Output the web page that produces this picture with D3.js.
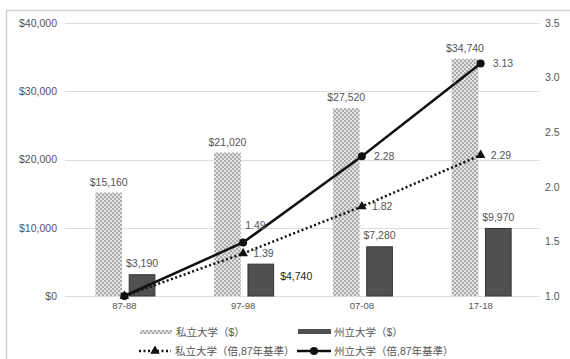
<!DOCTYPE html>
<html><head><meta charset="utf-8">
<script src="https://cdn.jsdelivr.net/npm/d3@7"></script>
<style>body{margin:0;background:#fff}svg{display:block}text{font-family:"Liberation Sans","Noto Sans CJK JP",sans-serif}</style>
</head><body>
<script>
const categories = ["87-88","97-98","07-08","17-18"];
const privateUSD = [15160,21020,27520,34740];
const stateUSD = [3190,4740,7280,9970];
const privateIdx = [1.0,1.39,1.82,2.29];
const stateIdx = [1.0,1.49,2.28,3.13];
const leftTicks = [0,10000,20000,30000,40000];
const rightTicks = [1.0,1.5,2.0,2.5,3.0,3.5];
const seriesNames = ["私立大学（$）","州立大学（$）","私立大学（倍,87年基準）","州立大学（倍,87年基準）"];

const W=570,H=359;
const svg=d3.select("body").append("svg").attr("width",W).attr("height",H);
const defs=svg.append("defs");
const pat=defs.append("pattern").attr("id","chk").attr("patternUnits","userSpaceOnUse").attr("width",4).attr("height",4);
pat.append("rect").attr("width",4).attr("height",4).attr("fill","#e4e4e4");
pat.append("rect").attr("width",2).attr("height",2).attr("fill","#ababab");
pat.append("rect").attr("x",2).attr("y",2).attr("width",2).attr("height",2).attr("fill","#ababab");

svg.append("rect").attr("x",6.5).attr("y",10.5).attr("width",600).attr("height",400).attr("fill","none").attr("stroke","#d0d0d0").attr("stroke-width",1.5);

const x=d3.scaleBand().domain(categories).range([65,540]);
const yL=d3.scaleLinear().domain([0,40000]).range([296,23]);
const yR=d3.scaleLinear().domain([1.0,3.5]).range([296,23]);
const inner=d3.scaleBand().domain(["p","s"]).range([-29,31]).paddingInner(0.2);

// gridlines
svg.append("g").selectAll("line").data(leftTicks).join("line")
 .attr("x1",65).attr("x2",540).attr("y1",d=>Math.round(yL(d))+0.5).attr("y2",d=>Math.round(yL(d))+0.5)
 .attr("stroke","#dedede").attr("stroke-width",1);

// axes
const fmt=d=>"$"+d3.format(",")(d);
const gL=svg.append("g").attr("transform","translate(62,0)").call(d3.axisLeft(yL).tickValues(leftTicks).tickFormat(fmt).tickSize(0).tickPadding(5));
gL.select(".domain").remove();
gL.selectAll("text").attr("font-size",10.5).attr("fill","#555");
const gR=svg.append("g").attr("transform","translate(540,0)").call(d3.axisRight(yR).tickValues(rightTicks).tickFormat(d3.format(".1f")).tickSize(0).tickPadding(5));
gR.select(".domain").remove();
gR.selectAll("text").attr("font-size",10.5).attr("fill","#555");
const gX=svg.append("g").attr("transform","translate(0,296)").call(d3.axisBottom(x).tickSize(0).tickPadding(6));
gX.select(".domain").remove();
gX.selectAll("text").attr("font-size",9.5).attr("fill","#555");

const cx=c=>x(c)+x.bandwidth()/2;
// bars
svg.append("g").selectAll("rect").data(categories).join("rect")
 .attr("x",c=>cx(c)+inner("p")).attr("width",inner.bandwidth())
 .attr("y",(c,i)=>yL(privateUSD[i])).attr("height",(c,i)=>yL(0)-yL(privateUSD[i])).attr("fill","url(#chk)");
svg.append("g").selectAll("rect").data(categories).join("rect")
 .attr("x",c=>cx(c)+inner("s")+0.5).attr("width",inner.bandwidth()-1)
 .attr("y",(c,i)=>yL(stateUSD[i])+0.5).attr("height",(c,i)=>yL(0)-yL(stateUSD[i])-0.5)
 .attr("fill","#505050").attr("stroke","#333").attr("stroke-width",1);

// bar labels
svg.append("g").selectAll("text").data(categories).join("text")
 .attr("x",c=>cx(c)+inner("p")+inner.bandwidth()/2).attr("y",(c,i)=>yL(privateUSD[i])-7)
 .attr("text-anchor","middle").attr("font-size",10.5).attr("fill","#555").text((c,i)=>fmt(privateUSD[i]));
svg.append("g").selectAll("text").data(categories).join("text")
 .attr("x",(c,i)=> i===1 ? cx(c)+inner("s")+inner.bandwidth()+6 : cx(c)+inner("s")+inner.bandwidth()/2)
 .attr("y",(c,i)=> i===1 ? yL(0)-16 : yL(stateUSD[i])-7)
 .attr("text-anchor",(c,i)=>i===1?"start":"middle").attr("font-size",10.5).attr("fill",(c,i)=>i===1?"#222":"#555")
 .text((c,i)=>fmt(stateUSD[i]));

// lines
const line=arr=>d3.line().x((d,i)=>cx(categories[i])).y(d=>yR(d))(arr);
svg.append("path").attr("d",line(privateIdx)).attr("fill","none").attr("stroke","#111").attr("stroke-width",2.5).attr("stroke-dasharray","2,2.5");
svg.append("path").attr("d",line(stateIdx)).attr("fill","none").attr("stroke","#111").attr("stroke-width",2.5);
const tri=d3.symbol().type(d3.symbolTriangle).size(40);
svg.append("g").selectAll("path").data(privateIdx).join("path")
 .attr("transform",(d,i)=>`translate(${cx(categories[i])},${yR(d)})`).attr("d",tri).attr("fill","#111");
svg.append("g").selectAll("circle").data(stateIdx).join("circle")
 .attr("cx",(d,i)=>cx(categories[i])).attr("cy",d=>yR(d)).attr("r",4).attr("fill","#111");

// line labels
svg.append("g").selectAll("text").data(privateIdx.slice(1)).join("text")
 .attr("x",(d,i)=>cx(categories[i+1])+10).attr("y",(d,i)=>yR(d)+4)
 .attr("font-size",10.5).attr("fill","#555").text(d=>d3.format(".2f")(d));
svg.append("g").selectAll("text").data(stateIdx.slice(1)).join("text")
 .attr("x",(d,i)=> i===0 ? cx(categories[1])+2 : cx(categories[i+1])+12)
 .attr("y",(d,i)=> i===0 ? yR(d)-13 : yR(d)+4)
 .attr("font-size",10.5).attr("fill","#555").text(d=>d3.format(".2f")(d));

// legend
const lg=svg.append("g").attr("font-size",10.5);
lg.append("rect").attr("x",140).attr("y",330).attr("width",32).attr("height",4).attr("fill","url(#chk)");
lg.append("text").attr("x",176).attr("y",336).text(seriesNames[0]).attr("fill","#555");
lg.append("rect").attr("x",298).attr("y",329).attr("width",33).attr("height",5).attr("fill","#505050");
lg.append("text").attr("x",334).attr("y",336).text(seriesNames[1]).attr("fill","#555");
lg.append("line").attr("x1",139).attr("x2",171).attr("y1",351).attr("y2",351).attr("stroke","#111").attr("stroke-width",2.5).attr("stroke-dasharray","2,2.5");
lg.append("path").attr("transform","translate(155,351)").attr("d",tri).attr("fill","#111");
lg.append("text").attr("x",175).attr("y",355).text(seriesNames[2]).attr("fill","#555");
lg.append("line").attr("x1",297).attr("x2",331).attr("y1",351).attr("y2",351).attr("stroke","#111").attr("stroke-width",2.5);
lg.append("circle").attr("cx",314).attr("cy",351).attr("r",4).attr("fill","#111");
lg.append("text").attr("x",334).attr("y",355).text(seriesNames[3]).attr("fill","#555");
</script>
</body></html>
